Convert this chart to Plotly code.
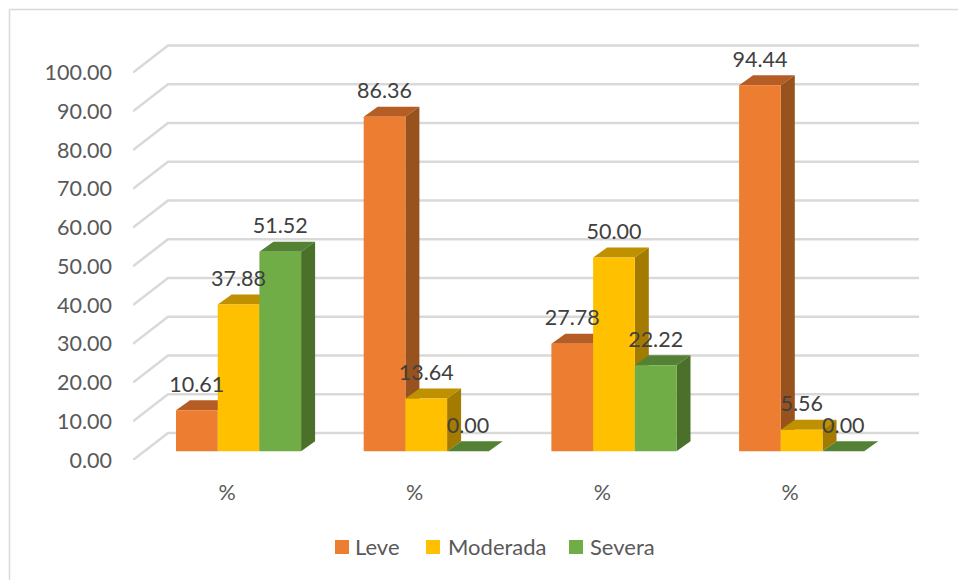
import plotly.graph_objects as go

# Chart values
categories = ["%", "%", "%", "%"]
series_names = ["Leve", "Moderada", "Severa"]
leve = [10.61, 86.36, 27.78, 94.44]
moderada = [37.88, 13.64, 50.00, 5.56]
severa = [51.52, 0.00, 22.22, 0.00]
y_ticks = [0, 10, 20, 30, 40, 50, 60, 70, 80, 90, 100]

# Face colours per series: front, top, side
palette = {
    "Leve": ("#ED7D31", "#B55D24", "#97521E"),
    "Moderada": ("#FFC000", "#BF9000", "#A37B00"),
    "Severa": ("#70AD47", "#548235", "#4A7029"),
}

# Pixel scale of the plot area, used to express the oblique depth in axis units
PX_PER_CAT = 187.7
PX_PER_UNIT = 3.875
PLOT_LEFT, PLOT_RIGHT, PLOT_TOP, PLOT_BOTTOM = 133, 919, 36, 460
TICK0_PX = 227

x_range = [(PLOT_LEFT - TICK0_PX) / PX_PER_CAT, (PLOT_RIGHT - TICK0_PX) / PX_PER_CAT]
y_range = [0, (PLOT_BOTTOM - PLOT_TOP) / PX_PER_UNIT]

# Wall depth (gridlines) and bar depth, in axis units
WALL_DX, WALL_DY = 35 / PX_PER_CAT, 27 / PX_PER_UNIT
BAR_DX, BAR_DY = 14 / PX_PER_CAT, 10 / PX_PER_UNIT
BAR_W = 41.7 / PX_PER_CAT
BAR_X0 = (176 - TICK0_PX) / PX_PER_CAT
FLOOR = 8.7 / PX_PER_UNIT
LABEL_GAP = 24 / PX_PER_UNIT

fig = go.Figure()

# Gridlines run along the side wall, then across the back wall
gx, gy = [], []
for v in y_ticks:
    gx += [x_range[0], x_range[0] + WALL_DX, x_range[1], None]
    gy += [v, v + WALL_DY, v + WALL_DY, None]
fig.add_trace(go.Scatter(x=gx, y=gy, mode="lines", showlegend=False, hoverinfo="skip",
                         line=dict(color="#D9D9D9", width=2.5)))


def faces(values, slot):
    """Return polygon outlines (front, top, side) for one series."""
    front, top, side = ([], []), ([], []), ([], [])
    for i, v in enumerate(values):
        x0 = i + BAR_X0 + slot * BAR_W
        x1 = x0 + BAR_W
        y0, y1 = FLOOR, FLOOR + v
        front[0].extend([x0, x1, x1, x0, x0, None])
        front[1].extend([y0, y0, y1, y1, y0, None])
        top[0].extend([x0, x1, x1 + BAR_DX, x0 + BAR_DX, x0, None])
        top[1].extend([y1, y1, y1 + BAR_DY, y1 + BAR_DY, y1, None])
        side[0].extend([x1, x1 + BAR_DX, x1 + BAR_DX, x1, x1, None])
        side[1].extend([y0, y0 + BAR_DY, y1 + BAR_DY, y1, y0, None])
    return front, top, side


def polygon(points, color, name):
    return go.Scatter(x=points[0], y=points[1], mode="lines", fill="toself", fillcolor=color,
                      line=dict(width=0, color=color), name=name, showlegend=False,
                      hoverinfo="skip")


all_series = [leve, moderada, severa]

# Later series overlap the side faces of earlier ones
for slot, (name, values) in enumerate(zip(series_names, all_series)):
    front, top, side = faces(values, slot)
    c_front, c_top, c_side = palette[name]
    fig.add_trace(polygon(top, c_top, name))
    fig.add_trace(polygon(side, c_side, name))
    fig.add_trace(polygon(front, c_front, name))

# Value labels above each bar
for slot, values in enumerate(all_series):
    fig.add_trace(go.Scatter(
        x=[i + BAR_X0 + (slot + 0.5) * BAR_W for i in range(len(values))],
        y=[FLOOR + v + LABEL_GAP for v in values],
        mode="text",
        text=[f"{v:.2f}" for v in values],
        textposition="middle center",
        textfont=dict(family="Lato", size=21.5, color="#404040"),
        showlegend=False, hoverinfo="skip", cliponaxis=False,
    ))

WIDTH, HEIGHT = 958, 580
pw, ph = PLOT_RIGHT - PLOT_LEFT, PLOT_BOTTOM - PLOT_TOP


def paper_x(px):
    return (px - PLOT_LEFT) / pw


def paper_y(px):
    return (PLOT_BOTTOM - px) / ph


# Chart-area border: only the top and left edges are drawn
border = dict(color="#D9D9D9", width=1.5)
shapes = [
    dict(type="line", xref="paper", yref="paper", x0=paper_x(9.5), x1=paper_x(WIDTH),
         y0=paper_y(9.5), y1=paper_y(9.5), line=border),
    dict(type="line", xref="paper", yref="paper", x0=paper_x(9.5), x1=paper_x(9.5),
         y0=paper_y(9.5), y1=paper_y(HEIGHT), line=border),
]

# Legend row below the plot: swatch followed by the series name
annotations = []
legend_slots = [(335, 354), (426, 447), (569, 589)]
for name, (swatch_px, text_px) in zip(series_names, legend_slots):
    shapes.append(dict(type="rect", xref="paper", yref="paper", line=dict(width=0),
                       x0=paper_x(swatch_px), x1=paper_x(swatch_px + 14),
                       y0=paper_y(540), y1=paper_y(554), fillcolor=palette[name][0]))
    annotations.append(dict(xref="paper", yref="paper", x=paper_x(text_px), y=paper_y(546.5),
                            xanchor="left", yanchor="middle", text=name, showarrow=False,
                            borderpad=0, font=dict(family="Lato", size=22, color="#595959")))

fig.update_layout(
    width=WIDTH, height=HEIGHT,
    margin=dict(l=PLOT_LEFT, r=WIDTH - PLOT_RIGHT, t=PLOT_TOP, b=HEIGHT - PLOT_BOTTOM, pad=0),
    paper_bgcolor="white", plot_bgcolor="white",
    font=dict(family="Lato", size=21.5, color="#595959"),
    showlegend=False,
    shapes=shapes,
    annotations=annotations,
    xaxis=dict(range=x_range, tickmode="array", tickvals=list(range(len(categories))),
               ticktext=categories, showgrid=False, zeroline=False, showline=False,
               ticks="", ticklabelstandoff=17, fixedrange=True),
    yaxis=dict(range=y_range, tickmode="array", tickvals=y_ticks,
               ticktext=[f"{v:.2f}" for v in y_ticks], showgrid=False, zeroline=False,
               showline=False, ticks="", ticklabelstandoff=20, fixedrange=True),
)

fig.write_html("out.html", config={"displayModeBar": False})
